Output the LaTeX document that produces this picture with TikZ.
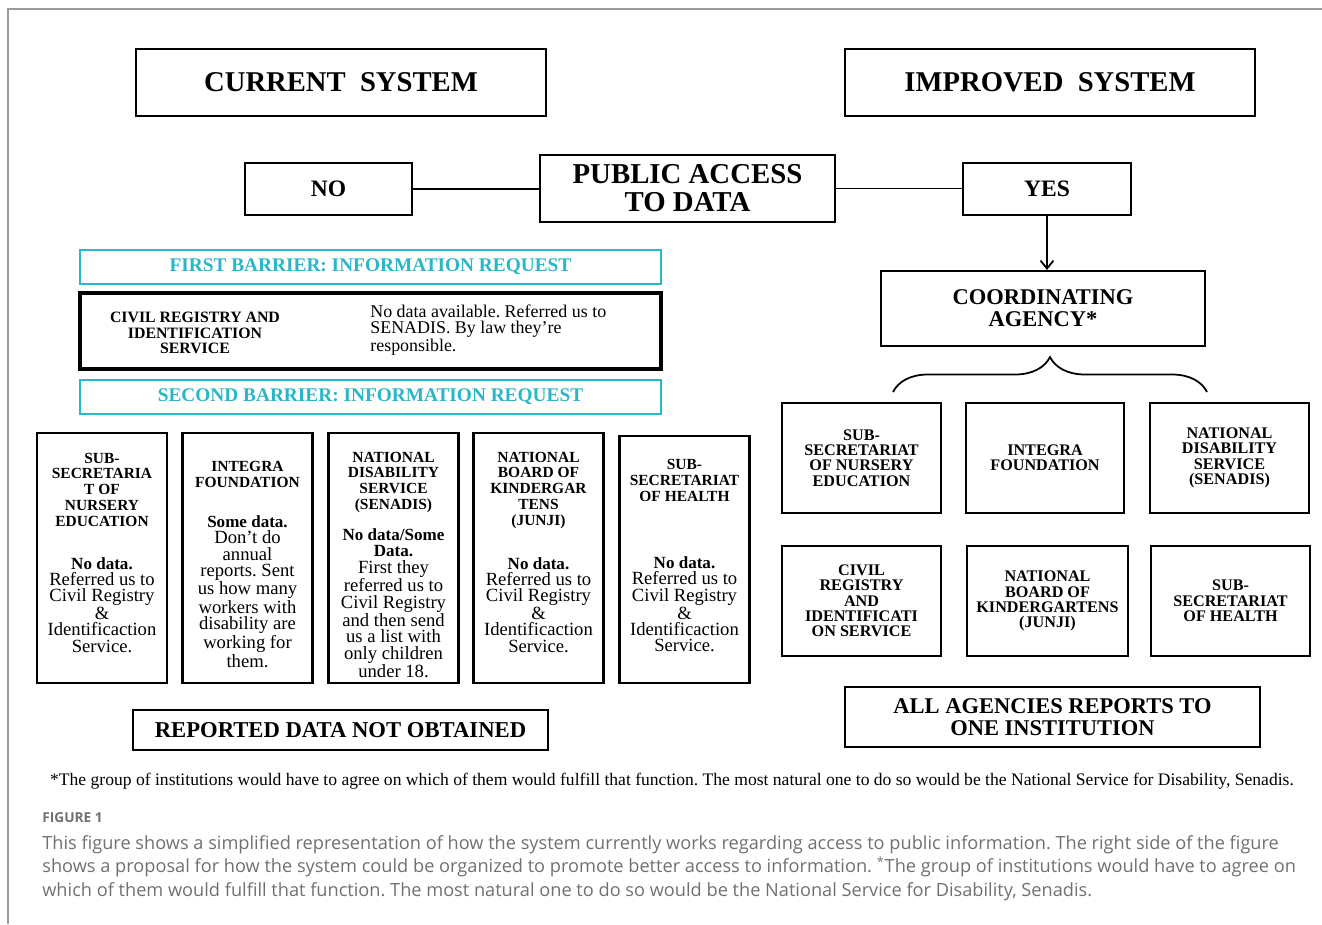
\documentclass[tikz,border=0pt]{standalone}
\usepackage{fontspec}
\setmainfont{Liberation Serif}
\newfontfamily\capfont{Open Sans}
\usetikzlibrary{arrows.meta,positioning,decorations.pathreplacing}
\frenchspacing

\definecolor{barriercyan}{RGB}{40,182,200}
\definecolor{capgray}{RGB}{112,112,112}
\definecolor{framegray}{RGB}{155,155,155}

\newcommand{\fs}[2]{\fontsize{#1}{#2}\selectfont}
\newcommand{\keyline}[1]{{\bfseries\fs{9.7}{9.2}#1}}

\begin{document}
\begin{tikzpicture}[
    x=0.02cm, y=-0.02cm,
    box/.style={draw, line width=1.2pt, inner sep=0pt, align=center},
    title/.style={box, minimum width=8.2cm, minimum height=1.34cm, font=\bfseries\fs{16.3}{16}},
    answer/.style={box, minimum width=3.35cm, minimum height=1.04cm, font=\bfseries\fs{13.4}{14}},
    barrier/.style={box, draw=barriercyan, text=barriercyan, minimum width=11.62cm, minimum height=0.68cm, font=\bfseries\fs{11}{12}},
    colbox/.style={box, minimum width=2.6cm, minimum height=5cm},
    colhead/.style={anchor=north, align=center, inner sep=0pt, font=\bfseries\fs{8.8}{9}},
    colbody/.style={anchor=north, align=center, inner sep=0pt, font=\fs{10.6}{9.2}},
    gridbox/.style={box, minimum width=3.18cm, minimum height=2.2cm, font=\bfseries\fs{9.2}{8.7}},
    link/.style={line width=1.1pt},
    arrow/.style={-{Straight Barb[length=1.6mm,width=2.6mm]}, line width=1pt},
    brace/.style={decorate, decoration={brace, amplitude=0.7cm}, line width=1pt},
    frame/.style={draw=framegray, line width=1.1pt}
]
\useasboundingbox (0,0) rectangle (1322,924);
\draw[frame] (8,924) -- (8,9) -- (1322,9);

% Headings
\node[title] (current) at (341,82.5) {CURRENT\ \ SYSTEM};
\node[title] (improved) at (1050,82.5) {IMPROVED\ \ SYSTEM};

% Public access
\node[box, minimum width=5.9cm, minimum height=1.34cm, font=\bfseries\fs{16.4}{15.9}] (public) at (687.5,188.5) {PUBLIC ACCESS\\TO DATA};
\node[answer] (no) at (328.5,189) {NO};
\node[answer] (yes) at (1047,189) {YES};
\draw[link] (no.east) -- (no.east -| public.west);
\draw[link] (public.east) -- (public.east -| yes.west);

% Current system
\node[barrier] (first) at (370.5,267) {FIRST BARRIER: INFORMATION REQUEST};
\node[box, line width=1.8pt, minimum width=11.62cm, minimum height=1.52cm] (civil) at (370.5,331) {};
\node[align=center, inner sep=0pt, font=\bfseries\fs{9}{9}] (civil-name) at (195,333) {CIVIL REGISTRY AND\\IDENTIFICATION\\SERVICE};
\node[anchor=west, align=left, inner sep=0pt, font=\fs{10.2}{9.1}] (civil-note) at (370,330) {No data available. Referred us to\\SENADIS. By law they’re\\responsible.};
\node[barrier] (second) at (370.5,397) {SECOND BARRIER: INFORMATION REQUEST};

\node[colbox] (nursery) at (102,558) {};
\node[colbox] (integra) at (247.5,558) {};
\node[colbox] (senadis) at (393.5,558) {};
\node[colbox] (junji) at (538.5,558) {};
\node[colbox, minimum height=4.94cm] (health) at (684.5,559.5) {};

\node[colhead] (nursery-h) at (102,452.5) {SUB-\\SECRETARIA\\T OF\\NURSERY\\EDUCATION};
\node[colbody] (nursery-b) at (102,557) {\keyline{No data.}\\Referred us to\\Civil Registry\\\&\\Identificaction\\Service.};
\node[colhead] (integra-h) at (247.5,461) {INTEGRA\\FOUNDATION};
\node[colbody] (integra-b) at (247.5,515.5) {\keyline{Some data.}\\Don’t do\\annual\\reports. Sent\\us how many\\workers with\\disability are\\working for\\them.};
\node[colhead] (senadis-h) at (393.5,451.5) {NATIONAL\\DISABILITY\\SERVICE\\(SENADIS)};
\node[colbody] (senadis-b) at (393.5,528.5) {\keyline{No data/Some}\\\keyline{Data.}\\First they\\referred us to\\Civil Registry\\and then send\\us a list with\\only children\\under 18.};
\node[colhead] (junji-h) at (538.5,451.5) {NATIONAL\\BOARD OF\\KINDERGAR\\TENS\\(JUNJI)};
\node[colbody] (junji-b) at (538.5,557) {\keyline{No data.}\\Referred us to\\Civil Registry\\\&\\Identificaction\\Service.};
\node[colhead] (health-h) at (684.5,459) {SUB-\\SECRETARIAT\\OF HEALTH};
\node[colbody] (health-b) at (684.5,556.5) {\keyline{No data.}\\Referred us to\\Civil Registry\\\&\\Identificaction\\Service.};

\node[box, minimum width=8.3cm, minimum height=0.8cm, font=\bfseries\fs{12.9}{13}] (notobtained) at (340.5,730) {REPORTED DATA NOT OBTAINED};

% Improved system
\node[box, minimum width=6.48cm, minimum height=1.5cm, font=\bfseries\fs{12.8}{12.5}] (coord) at (1043,308.5) {COORDINATING\\AGENCY*};
\draw[arrow] (yes.south) -- (yes.south |- coord.north);

\coordinate (brace-l) at (893,392);
\coordinate (brace-r) at (1207,392);
\draw[brace] (brace-l) -- (brace-r);

\node[gridbox] (g-nursery) at (861.5,458) {SUB-\\SECRETARIAT\\OF NURSERY\\EDUCATION};
\node[gridbox, minimum width=3.16cm] (g-integra) at (1045,458) {INTEGRA\\FOUNDATION};
\node[gridbox] (g-senadis) at (1229.5,458) {NATIONAL\\DISABILITY\\SERVICE\\(SENADIS)};
\node[gridbox] (g-civil) at (861.5,601) {CIVIL\\REGISTRY\\AND\\IDENTIFICATI\\ON SERVICE};
\node[gridbox, minimum width=3.22cm] (g-junji) at (1047.5,601) {NATIONAL\\BOARD OF\\KINDERGARTENS\\(JUNJI)};
\node[gridbox] (g-health) at (1230.5,601) {SUB-\\SECRETARIAT\\OF HEALTH};

\node[box, minimum width=8.3cm, minimum height=1.2cm, font=\bfseries\fs{12.8}{12.5}] (oneinst) at (1052.5,717) {ALL AGENCIES REPORTS TO\\ONE INSTITUTION};

% Footnote and caption
\node[inner sep=0pt, font=\fs{10}{11}] (footnote) at (672,781) {*The group of institutions would have to agree on which of them would fulfill that function. The most natural one to do so would be the National Service for Disability, Senadis.};
\node[anchor=west, inner sep=0pt, text=capgray, font=\capfont\bfseries\fs{7.8}{9}] (figlabel) at (42,818) {FIGURE 1};
\node[anchor=north west, align=left, inner sep=0pt, text=capgray, font=\capfont\fs{10.35}{13.4}] (caption) at (42,835) {This figure shows a simplified representation of how the system currently works regarding access to public information. The right side of the figure\\shows a proposal for how the system could be organized to promote better access to information. \textsuperscript{*}The group of institutions would have to agree on\\which of them would fulfill that function. The most natural one to do so would be the National Service for Disability, Senadis.};
\end{tikzpicture}
\end{document}
